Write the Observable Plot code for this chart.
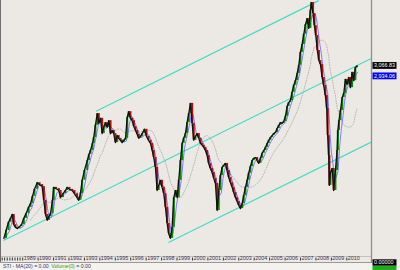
<!DOCTYPE html>
<html><head><meta charset="utf-8">
<script src="https://cdn.jsdelivr.net/npm/d3@7"></script>
<script src="https://cdn.jsdelivr.net/npm/@observablehq/plot@0.6"></script>
<style>
html,body{margin:0;padding:0;background:#ece9e4;overflow:hidden;width:400px;height:270px;}
#chart{width:400px;height:270px;overflow:hidden;}
#chart svg{display:block;max-width:none !important;}
</style></head><body><div id="chart"></div>
<script>
// ---- data (decimal years, monthly-ish closes) ----
const times = [1987.78,1987.92,1988.08,1988.21,1988.32,1988.42,1988.53,1988.66,1988.79,1988.92,
1989.07,1989.21,1989.38,1989.51,1989.63,1989.76,1989.94,
1990.09,1990.26,1990.37,1990.48,1990.59,1990.70,1990.80,1990.93,
1991.01,1991.16,1991.34,1991.45,1991.61,1991.77,1991.88,
1992.03,1992.21,1992.35,1992.52,1992.63,1992.74,1992.85,
1993.00,1993.18,1993.29,1993.39,1993.52,1993.60,1993.71,1993.83,1993.93,
1994.04,1994.15,1994.25,1994.36,1994.47,1994.58,1994.69,1994.80,1994.90,
1995.01,1995.12,1995.22,1995.33,1995.44,1995.55,1995.66,1995.77,1995.87,1995.98,
1996.09,1996.20,1996.31,1996.42,1996.52,1996.63,1996.74,1996.89,
1997.02,1997.15,1997.28,1997.39,1997.49,1997.60,1997.71,1997.81,1997.92,
1998.03,1998.14,1998.25,1998.36,1998.46,1998.57,1998.68,1998.79,1998.90,
1999.01,1999.11,1999.22,1999.33,1999.43,1999.54,1999.65,1999.76,1999.87,1999.98,
2000.08,2000.19,2000.30,2000.41,2000.52,2000.63,2000.73,2000.84,2000.95,
2001.05,2001.16,2001.27,2001.38,2001.49,2001.60,2001.70,2001.81,2001.92,
2002.02,2002.13,2002.24,2002.35,2002.46,2002.57,2002.67,2002.78,2002.89,
2003.00,2003.11,2003.22,2003.32,2003.43,2003.54,2003.64,2003.75,2003.86,2003.97,
2004.08,2004.19,2004.29,2004.40,2004.51,2004.62,2004.73,2004.84,2004.94,
2005.05,2005.16,2005.26,2005.37,2005.48,2005.59,2005.70,2005.81,2005.91,
2006.02,2006.13,2006.23,2006.34,2006.45,2006.56,2006.67,2006.78,2006.89,2006.99,
2007.10,2007.21,2007.32,2007.43,2007.53,2007.64,2007.70,2007.81,2007.90,2007.99,
2008.09,2008.19,2008.29,2008.40,2008.50,2008.61,2008.70,2008.76,2008.83,2008.87,2008.94,
2009.05,2009.15,2009.26,2009.37,2009.42,2009.49,2009.59,2009.70,2009.80,2009.91,
2010.02,2010.13,2010.23,2010.34,2010.44,2010.55,2010.66];

const closes = [870,970,1075,1125,1175,1045,1010,995,1020,1045,
1125,1185,1265,1315,1405,1495,1580,
1555,1530,1355,1175,1100,1150,1185,1355,
1520,1505,1480,1390,1440,1480,1520,
1495,1480,1440,1390,1355,1440,1610,
1735,1860,1940,1990,2080,2155,2310,2460,2335,
2400,2205,2285,2345,2285,2370,2205,2245,2205,
2090,2180,2145,2120,2090,2120,2145,2410,2485,2400,
2370,2295,2245,2195,2145,2170,2205,2260,
2170,2120,2080,1990,1900,1775,1480,1545,1610,
1520,1440,1265,1060,930,870,1010,1390,1480,
1390,1610,1860,2080,2145,2205,2345,2460,2590,2335,
2120,2170,2205,2145,2080,2055,2030,1990,1925,
1825,1760,1710,1635,1570,1225,1480,1670,1775,
1800,1825,1735,1645,1580,1520,1455,1390,1340,
1290,1250,1315,1415,1520,1610,1700,1785,1860,1890,
1900,1860,1825,1890,1955,1990,2030,2080,2120,
2155,2180,2205,2220,2270,2310,2345,2335,2360,
2425,2550,2600,2625,2730,2820,2880,2970,3075,3240,
3340,3470,3595,3670,3545,3775,3875,3735,3580,3455,
3265,3135,3085,2920,2820,2690,2525,2180,1925,1545,1710,
1760,1480,1735,1990,2245,2370,2500,2665,2715,2895,
2830,2920,2790,2985,2880,3045,3066.83];

// trend channel lines (start/end in data units)
const channelStartT = [1993.76, 1987.76, 1998.44];
const channelStartV = [2490, 843, 818];
const channelEndT   = [2008.18, 2011.65, 2011.65];
const channelEndV   = [3900, 3168, 2104];

// axis ticks
const yearTicks  = d3.range(1989, 2011);
const minorTicks = [1987.67,1987.83,1988.0,1988.17,1988.33,1988.5,1988.67,1988.83];

// right-hand value labels
const priceLabels = [3066.83, 2934.06];
const statusLabel = "STI - MA(20) = 0.00";
const volumeName = "Volume(0)";
const volumeValue = 0;

// scale domains
const xDomain = [1987.627, 2011.60];
const yDomain = [639.4, 3900.8];

// ---- derived tables ----
const price = times.map((t, i) => ({t, v: closes[i]}));
const candles = times.slice(1).map((t, i) => ({t, o: closes[i], c: closes[i + 1]}));
function trailingMean(span, strict) {
  const out = [];
  for (let i = 0; i < times.length; i++) {
    if (strict && times[i] - times[0] < span) continue;
    let s = 0, n = 0;
    for (let j = i; j >= 0 && times[i] - times[j] < span; j--) { s += closes[j]; n++; }
    out.push({t: times[i], v: s / n});
  }
  return out;
}
const maSlow = trailingMean(20 / 12, true);
const maFast = trailingMean(0.3, false);
const channels = channelStartT.map((t, i) => ({t1: t, v1: channelStartV[i], t2: channelEndT[i], v2: channelEndV[i]}));

const FONT = "Liberation Sans, Arial, sans-serif";

function frameDecor(index, scales, values, dims) {
  const g = d3.create("svg:g");
  const W = dims.width, H = dims.height, R = W - dims.marginRight, B = H - dims.marginBottom;
  g.append("rect").attr("x", 0).attr("y", 0).attr("width", W).attr("height", H).attr("fill", "#ece9e4");
  g.append("rect").attr("x", 0).attr("y", B + 6.5).attr("width", W).attr("height", H - B - 6.5).attr("fill", "#f3f2ee");
  g.append("line").attr("x1", 0).attr("x2", R + 1).attr("y1", B + 0.5).attr("y2", B + 0.5).attr("stroke", "#c4c2bc");
  g.append("line").attr("x1", 0).attr("x2", R + 1).attr("y1", B + 6.5).attr("y2", B + 6.5).attr("stroke", "#9a9894");
  g.append("line").attr("x1", 0.5).attr("x2", 0.5).attr("y1", 0).attr("y2", B + 6).attr("stroke", "#6e6e6e");
  g.append("line").attr("x1", R + 0.5).attr("x2", R + 0.5).attr("y1", 0).attr("y2", B + 6.5).attr("stroke", "#8e8e8e").attr("stroke-width", 1.3);
  return g.node();
}

function labelDecor(index, scales, values, dims) {
  const g = d3.create("svg:g").attr("font-family", FONT).attr("text-anchor", "start");
  const W = dims.width, H = dims.height, R = W - dims.marginRight, B = H - dims.marginBottom;
  const fills = ["#000000", "#0000ff"];
  priceLabels.forEach((v, i) => {
    const y = scales.y(v);
    g.append("rect").attr("x", R + 1.5).attr("y", y - 3.4).attr("width", 24).attr("height", 6.8).attr("fill", fills[i]);
    g.append("text").attr("x", R + 3).attr("y", y + 1.9).attr("font-size", 5.4).attr("fill", "#fff").text(d3.format(",.2f")(v));
  });
  // lower panel value boxes
  g.append("rect").attr("x", R + 1.5).attr("y", B + 3.3).attr("width", 24).attr("height", 6.4).attr("fill", "#000");
  g.append("text").attr("x", R + 3).attr("y", B + 8.2).attr("font-size", 5.4).attr("fill", "#fff").text(d3.format(".5f")(volumeValue));
  g.append("rect").attr("x", R + 1.5).attr("y", B + 10).attr("width", 24).attr("height", 4).attr("fill", "#18b018");
  // status line
  const t = g.append("text").attr("x", 3).attr("y", H - 2.2).attr("font-size", 5.2).attr("fill", "#3c3c5c");
  t.append("tspan").text(statusLabel);
  t.append("tspan").attr("fill", "#2f9a2f").attr("dx", 2.5).text(volumeName);
  t.append("tspan").text(" = " + d3.format(".2f")(volumeValue));
  return g.node();
}

const chart = Plot.plot({
  width: 400, height: 270,
  marginLeft: 1, marginRight: 29, marginTop: 0, marginBottom: 14,
  style: {background: "#ece9e4", fontFamily: FONT, overflow: "visible"},
  x: {type: "linear", domain: xDomain, axis: null, label: null},
  y: {type: "linear", domain: yDomain, axis: null, label: null},
  marks: [
    frameDecor,
    Plot.link(channels, {x1: "t1", y1: "v1", x2: "t2", y2: "v2", stroke: "#45dcc8", strokeWidth: 1.3, clip: true}),
    Plot.line(maSlow, {x: "t", y: "v", stroke: "#a8a8a8", strokeWidth: 0.8, strokeDasharray: "1,1.6"}),
    Plot.line(maFast, {x: "t", y: "v", stroke: "#7070ff", strokeWidth: 0.9, dx: 0.9, dy: 0.7}),
    Plot.ruleX(candles, {x: "t", y1: "o", y2: "c", stroke: d => d.c >= d.o ? "#0a8a0a" : "#b01010", strokeWidth: 2.1}),
    Plot.line(price, {x: "t", y: "v", stroke: "#111", strokeWidth: 1.3}),
    Plot.axisX(yearTicks.concat(minorTicks), {anchor: "bottom", tickSize: 3, dy: 1.5, stroke: "#333", tickFormat: () => "", label: null}),
    Plot.text(yearTicks, {x: d => d, text: d => String(d), frameAnchor: "bottom", dy: 3.4, dx: 1, textAnchor: "start", fontSize: 5.4, fill: "#3e3058"}),
    labelDecor
  ]
});
document.getElementById("chart").appendChild(chart);
</script>
</body></html>
